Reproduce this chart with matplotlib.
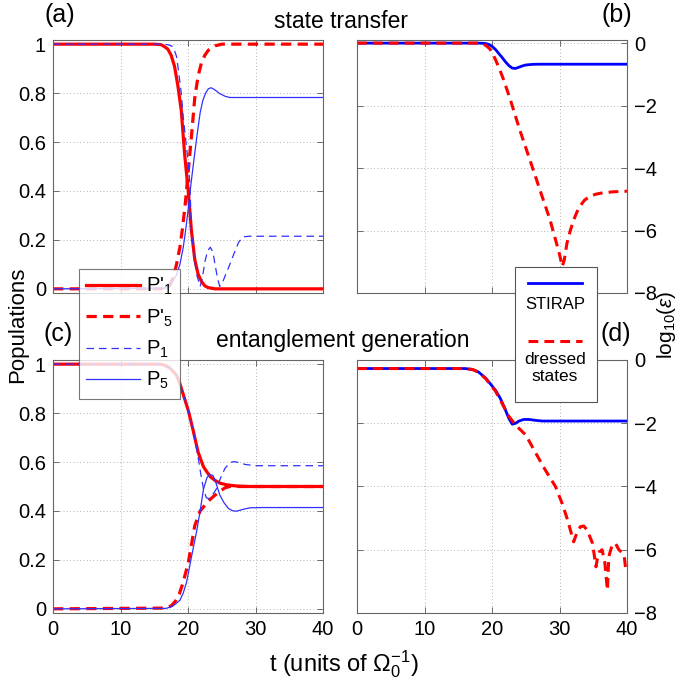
import numpy as np
import matplotlib
matplotlib.use('Agg')
import matplotlib.pyplot as plt
from matplotlib.lines import Line2D
from matplotlib.patches import Rectangle

plt.rcParams['font.family'] = ['Liberation Sans', 'DejaVu Sans']
plt.rcParams['mathtext.fontset'] = 'custom'
plt.rcParams['mathtext.rm'] = 'Liberation Sans'
plt.rcParams['mathtext.it'] = 'Liberation Sans:italic'

RED = '#ff0000'
BLUE = '#0000ff'
LBLUE = '#3030ff'

# ---- (a) state transfer, populations
ta_p1d = [0, 15, 16, 16.5, 17, 17.5, 18, 18.5, 19, 19.5, 20, 20.5, 21, 21.5, 22, 22.5, 23, 24, 40]
a_p1d = [1, 1, 0.998, 0.99, 0.98, 0.955, 0.91, 0.83, 0.73, 0.55, 0.41, 0.24, 0.12, 0.06, 0.03, 0.012, 0.005, 0.0, 0.0]
ta_p5d = [0, 16, 16.8, 17.3, 17.8, 18.3, 18.8, 19.2, 19.6, 20.0, 20.5, 21, 21.5, 22, 22.5, 23, 24, 25, 40]
a_p5d = [0, 0, 0.003, 0.015, 0.045, 0.1, 0.17, 0.25, 0.35, 0.47, 0.62, 0.78, 0.87, 0.925, 0.955, 0.975, 0.993, 1, 1]
ta_p1 = [0, 16, 17, 17.8, 18.3, 18.6, 19.0, 19.3, 19.7, 20.05, 20.3, 20.5, 20.9, 21.3, 21.8, 22.1, 22.5, 22.9, 23.3,
         23.7, 24.0, 24.4, 24.7, 25.1, 25.6, 26.2, 26.9, 27.5, 28.1, 29, 40]
a_p1 = [1, 1, 0.998, 0.99, 0.95, 0.89, 0.8, 0.7, 0.6, 0.51, 0.42, 0.23, 0.13, 0.057, 0.01, 0.04, 0.11, 0.155, 0.17,
        0.15, 0.1, 0.04, 0.01, 0.025, 0.06, 0.1, 0.15, 0.19, 0.212, 0.215, 0.215]
ta_p5 = [0, 16.8, 17.5, 18.3, 18.8, 19.3, 19.7, 20.05, 20.4, 20.8, 21.3, 21.8, 22.2, 22.6, 23.0, 23.4, 23.9, 24.7,
         25.5, 26.2, 27.5, 40]
a_p5 = [0, 0.003, 0.02, 0.057, 0.1, 0.17, 0.25, 0.33, 0.42, 0.51, 0.62, 0.72, 0.77, 0.80, 0.817, 0.822, 0.815, 0.798,
        0.787, 0.782, 0.782, 0.782]

# ---- (b) state transfer, log10(error)
tb_stirap = [0, 18, 19, 19.5, 20, 20.5, 21, 21.5, 22, 22.5, 23, 23.5, 24, 24.5, 25, 26, 27, 40]
b_stirap = [0, 0, -0.01, -0.04, -0.1, -0.2, -0.33, -0.46, -0.6, -0.72, -0.8, -0.81, -0.77, -0.73, -0.7, -0.68, -0.675, -0.675]
tb_dressed = [0, 18, 18.7, 19.2, 19.7, 20.2, 20.7, 21.2, 21.7, 22.7, 24.1, 25.6, 27.1, 28.6, 29.7, 30.1, 30.4,
              30.7, 31.1, 31.6, 32.1, 32.6, 33.0, 33.7, 34.5, 35.5, 36.5, 38, 40]
b_dressed = [0, 0, -0.03, -0.09, -0.19, -0.38, -0.62, -0.88, -1.16, -1.8, -2.77, -3.73, -4.7, -5.66, -6.52, -6.85,
             -7.15, -6.95, -6.41, -6.0, -5.66, -5.4, -5.23, -5.03, -4.9, -4.83, -4.79, -4.76, -4.74]

# ---- (c) entanglement generation, populations
tc_p1d = [0, 15.5, 16.3, 17.3, 18.3, 18.8, 19.3, 20.05, 20.8, 21.5, 22.3, 23.3, 24.0, 24.7, 25.7, 27.2, 29, 40]
c_p1d = [1, 1, 0.998, 0.985, 0.955, 0.92, 0.876, 0.81, 0.725, 0.64, 0.58, 0.54, 0.525, 0.514, 0.507, 0.502, 0.5, 0.5]
tc_p5d = [0, 16.8, 17.5, 18.1, 18.7, 19.3, 20.05, 20.5, 21.0, 21.4, 21.8, 22.4, 23.0, 23.8, 24.7, 25.5, 26.2, 40]
c_p5d = [0, 0.003, 0.012, 0.03, 0.06, 0.11, 0.19, 0.26, 0.34, 0.37, 0.40, 0.42, 0.44, 0.46, 0.48, 0.495, 0.5, 0.5]
tc_p1 = [0, 15.5, 16.3, 17.3, 18.3, 18.8, 19.3, 20.05, 20.8, 21.5, 21.9, 22.3, 22.7, 23.0, 23.5, 24.2, 24.9, 25.5,
         26.2, 26.8, 27.5, 28.5, 30, 40]
c_p1 = [1, 1, 0.998, 0.985, 0.955, 0.92, 0.876, 0.81, 0.725, 0.62, 0.55, 0.49, 0.455, 0.45, 0.46, 0.49, 0.54, 0.575,
        0.597, 0.602, 0.598, 0.59, 0.585, 0.585]
tc_p5 = [0, 16.8, 17.8, 18.8, 19.3, 19.8, 20.5, 21.3, 21.8, 22.3, 22.8, 23.2, 23.7, 24.2, 24.7, 25.3, 26.0, 26.6,
         27.2, 28.2, 29.2, 31, 40]
c_p5 = [0, 0.002, 0.012, 0.035, 0.065, 0.11, 0.21, 0.32, 0.40, 0.49, 0.535, 0.55, 0.545, 0.51, 0.466, 0.435, 0.41,
        0.401, 0.399, 0.407, 0.413, 0.414, 0.414]

# ---- (d) entanglement generation, log10(error)
td_stirap = [0, 16, 17.1, 18, 19.1, 20.5, 21.2, 21.8, 22.5, 23.0, 23.5, 24.0, 24.7, 25.5, 26.5, 27.5, 40]
d_stirap = [-0.27, -0.27, -0.3, -0.38, -0.58, -0.95, -1.2, -1.48, -1.85, -2.03, -2.0, -1.93, -1.88, -1.88, -1.91, -1.93, -1.93]
td_dressed = [0, 16, 17.1, 18, 19.1, 20.5, 21.2, 21.8, 22.5, 23.5, 25, 26.5, 27.9, 29.4, 30.4, 31.2, 32.1, 32.6,
              33.1, 33.6, 34.1, 34.9, 35.4, 35.6, 35.9, 36.3, 36.7, 37.1, 37.3, 37.8, 38.3, 38.8, 39.3, 39.6, 39.8, 40]
d_dressed = [-0.27, -0.27, -0.3, -0.38, -0.6, -0.98, -1.25, -1.5, -1.78, -2.06, -2.37, -2.95, -3.48, -4.0, -4.54,
             -5.06, -5.75, -5.45, -5.27, -5.25, -5.38, -5.8, -6.54, -6.3, -6.07, -6.0, -6.38, -7.28, -6.22, -5.85,
             -5.8, -6.0, -6.1, -6.22, -6.6, -6.5]

W, H = 685, 686
fig = plt.figure(figsize=(W / 100, H / 100), dpi=100)


def px_axes(x0, y0, x1, y1):
    return fig.add_axes([x0 / W, 1 - y1 / H, (x1 - x0) / W, (y1 - y0) / H])


def style(ax, right=False, showx=True):
    ax.set_xlim(0, 40)
    ax.set_xticks([0, 10, 20, 30, 40])
    ax.grid(True, linestyle=(0, (1, 3)), color='#9a9a9a', linewidth=0.6)
    ax.tick_params(direction='in', length=4, width=0.6, top=True, right=True, labelsize=14.5,
                   color='#555555', pad=5)
    for sp in ax.spines.values():
        sp.set_color('#666666')
        sp.set_linewidth(0.8)
    if not showx:
        ax.tick_params(labelbottom=False)
    if right:
        ax.tick_params(labelleft=False, labelright=True)
        ax.set_ylim(-8, 0.1)
        ax.set_yticks([0, -2, -4, -6, -8])
        ax.set_yticklabels(['0', '\u22122', '\u22124', '\u22126', '\u22128'])
    else:
        ax.set_ylim(-0.017, 1.017)
        ax.set_yticks([0, 0.2, 0.4, 0.6, 0.8, 1])
        ax.set_yticklabels(['0', '0.2', '0.4', '0.6', '0.8', '1'])


thick_dash = (3.2, 2.0)
thin_dash = (6, 4)

ax_a = px_axes(53, 40, 323, 293)
ax_b = px_axes(357, 40, 627, 293)
ax_c = px_axes(53, 360, 323, 613)
ax_d = px_axes(357, 360, 627, 613)

l1, = ax_a.plot(ta_p1d, a_p1d, color=RED, lw=2.3)
l2, = ax_a.plot(ta_p5d, a_p5d, color=RED, lw=2.3, dashes=thick_dash)
l3, = ax_a.plot(ta_p1, a_p1, color=LBLUE, lw=0.9, dashes=thin_dash)
l4, = ax_a.plot(ta_p5, a_p5, color=LBLUE, lw=0.9)
style(ax_a, showx=False)

ax_c.plot(tc_p1d, c_p1d, color=RED, lw=2.3)
ax_c.plot(tc_p5d, c_p5d, color=RED, lw=2.3, dashes=thick_dash)
ax_c.plot(tc_p1, c_p1, color=LBLUE, lw=0.9, dashes=thin_dash)
ax_c.plot(tc_p5, c_p5, color=LBLUE, lw=0.9)
style(ax_c)

ax_b.plot(tb_stirap, b_stirap, color=BLUE, lw=2.0)
ax_b.plot(tb_dressed, b_dressed, color=RED, lw=2.2, dashes=thick_dash)
style(ax_b, right=True, showx=False)

ax_d.plot(td_stirap, d_stirap, color=BLUE, lw=2.0)
ax_d.plot(td_dressed, d_dressed, color=RED, lw=2.2, dashes=thick_dash)
style(ax_d, right=True)
ax_d.set_ylim(-8, 0)

# legend for populations
leg = fig.legend([l1, l2, l3, l4],
                 ["P'$_1$", "P'$_5$", "P$_1$", "P$_5$"],
                 loc='upper left', bbox_to_anchor=(79 / W, 1 - 269 / H),
                 fontsize=14.5, frameon=True, fancybox=False, handlelength=2.7,
                 handletextpad=0.3, labelspacing=0.5, borderpad=0.35, borderaxespad=0)
leg.get_frame().set_edgecolor('#555555')
leg.get_frame().set_linewidth(0.8)

# legend for the error panels (line above text)
fig.add_artist(Rectangle((515 / W, 1 - 402 / H), 82 / W, 135 / H, transform=fig.transFigure,
                         facecolor='white', edgecolor='#555555', linewidth=0.8, zorder=5))
fig.add_artist(Line2D([528 / W, 582 / W], [1 - 283 / H] * 2, transform=fig.transFigure,
                      color=BLUE, lw=2.0, zorder=6))
fig.text(555 / W, 1 - 304 / H, 'STIRAP', ha='center', va='center', fontsize=12, zorder=6)
fig.add_artist(Line2D([528 / W, 582 / W], [1 - 341 / H] * 2, transform=fig.transFigure,
                      color=RED, lw=2.2, dashes=thick_dash, zorder=6))
fig.text(555 / W, 1 - 368 / H, 'dressed\nstates', ha='center', va='center', fontsize=12.5,
         linespacing=1.1, zorder=6)

# panel labels and titles
fig.text(60 / W, 1 - 15 / H, '(a)', ha='center', va='center', fontsize=18)
fig.text(617 / W, 1 - 15 / H, '(b)', ha='center', va='center', fontsize=18)
fig.text(58 / W, 1 - 334 / H, '(c)', ha='center', va='center', fontsize=18)
fig.text(616 / W, 1 - 334 / H, '(d)', ha='center', va='center', fontsize=18)
fig.text(341 / W, 1 - 22 / H, 'state transfer', ha='center', va='center', fontsize=16.5)
fig.text(343 / W, 1 - 341 / H, 'entanglement generation', ha='center', va='center', fontsize=16.5)

fig.text(18 / W, 1 - 325 / H, 'Populations', rotation=90, ha='center', va='center', fontsize=16)
fig.text(667 / W, 1 - 325 / H, r'log$_{10}$($\epsilon$)', rotation=90, ha='center', va='center', fontsize=15)
fig.text(344 / W, 1 - 664 / H, r't (units of $\Omega_0^{-1}$)', ha='center', va='center', fontsize=17)

fig.savefig('out.png', dpi=100)
